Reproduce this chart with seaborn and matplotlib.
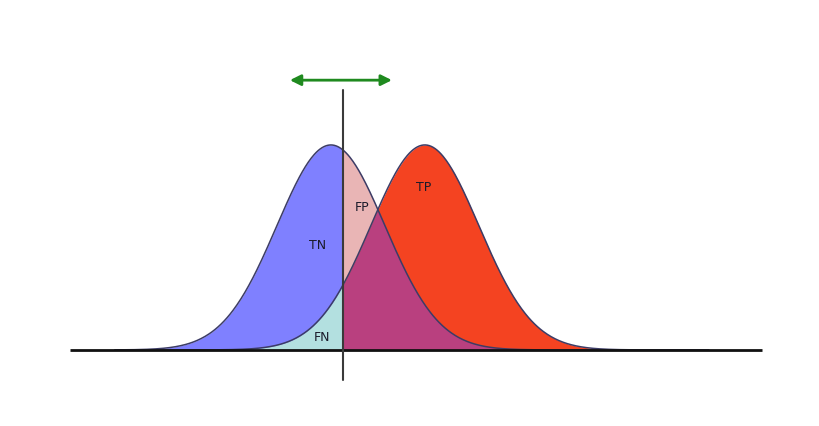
import numpy as np
import pandas as pd
import matplotlib
matplotlib.use("Agg")
import matplotlib.pyplot as plt
import seaborn as sns

# --- Chart values (score units, sd = 1) ---
class_names = ["negative", "positive"]
class_means = [0.0, 1.74]
class_sds = [1.0, 1.0]
threshold = 0.22
shift_range = [-0.76, 1.13]          # green double arrow: threshold can move
region_labels = ["TN", "FP", "TP", "FN"]
label_x = [-0.24, 0.57, 1.72, -0.17]
label_y = [0.204, 0.278, 0.317, 0.025]
axis_span = [-4.83, 7.98]

COLORS = {
    "TN": "#7f80ff",
    "FP": "#e9b5b5",
    "TP": "#f44321",
    "FN": "#b3e0e0",
    "overlap": "#b9407f",
    "edge": "#3c3c66",
    "arrow": "#1f8a1f",
}

sns.set_theme(style="white")
plt.rcParams["font.family"] = ["DejaVu Sans"]

xs = np.linspace(-4.0, 7.0, 600)
frames = []
for name, mu, sd in zip(class_names, class_means, class_sds):
    dens = np.exp(-0.5 * ((xs - mu) / sd) ** 2) / (sd * np.sqrt(2 * np.pi))
    frames.append(pd.DataFrame({"score": xs, "density": dens, "cls": name}))
df = pd.concat(frames, ignore_index=True)

neg = df[df.cls == "negative"]["density"].to_numpy()
pos = df[df.cls == "positive"]["density"].to_numpy()

fig = plt.figure(figsize=(8.2, 4.26), dpi=100)
ax = fig.add_axes([0, 0, 1, 1])

left = xs <= threshold
right = xs >= threshold
ax.fill_between(xs, 0, neg, where=left, color=COLORS["TN"], lw=0)
ax.fill_between(xs, 0, pos, where=left, color=COLORS["FN"], lw=0)
ax.fill_between(xs, 0, neg, where=right, color=COLORS["FP"], lw=0)
ax.fill_between(xs, 0, pos, where=right, color=COLORS["TP"], lw=0)
ax.fill_between(xs, 0, np.minimum(neg, pos), where=right,
                color=COLORS["overlap"], lw=0)

sns.lineplot(data=df, x="score", y="density", units="cls", estimator=None,
             color=COLORS["edge"], linewidth=1.1, ax=ax, legend=False)

# baseline and threshold
ax.plot(axis_span, [0, 0], color="#111111", lw=2, solid_capstyle="butt")
ax.plot([threshold, threshold], [-0.058, 0.506], color="#3a3a3a", lw=1.5)

# movable-threshold arrow
ax.annotate("", xy=(shift_range[1], 0.525), xytext=(shift_range[0], 0.525),
            arrowprops=dict(arrowstyle="<|-|>", color=COLORS["arrow"], lw=2,
                            mutation_scale=16, shrinkA=0, shrinkB=0))

for txt, lx, ly in zip(region_labels, label_x, label_y):
    ax.text(lx, ly, txt, ha="center", va="center", fontsize=9,
            color="#1a1a2a")

ax.set_xlim(-6.13, 9.06)
ax.set_ylim(-0.148, 0.681)
ax.set_axis_off()

fig.savefig("out.png", dpi=100, facecolor="white")
